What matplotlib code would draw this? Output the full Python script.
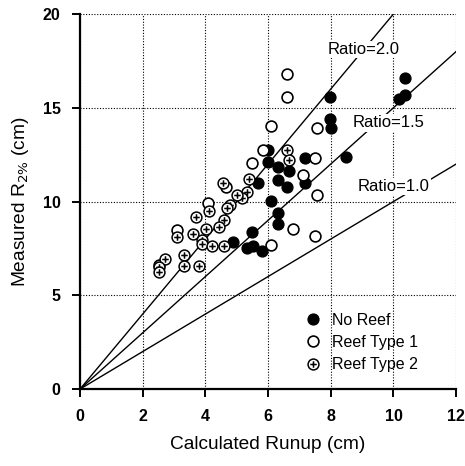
import numpy as np
import matplotlib
matplotlib.use("Agg")
import matplotlib.pyplot as plt
from matplotlib.path import Path

plt.rcParams['font.family'] = ['Liberation Sans', 'DejaVu Sans']

# calculated runup (x) vs measured R2% (y), cm
noreef_x = [10.37, 10.37, 10.19, 7.98, 7.98, 8.0, 8.49, 7.18, 7.18, 5.99, 5.99, 6.33,
            6.68, 6.31, 6.6, 5.69, 6.1, 6.33, 6.31, 5.48, 4.89, 5.32, 5.51, 5.8]
noreef_y = [16.6, 15.7, 15.45, 15.55, 14.4, 13.9, 12.4, 12.3, 11.0, 12.75, 12.12, 11.86,
            11.64, 11.15, 10.8, 10.97, 10.04, 9.4, 8.8, 8.39, 7.82, 7.5, 7.63, 7.36]

type1_x = [6.59, 6.59, 6.1, 7.55, 7.5, 5.85, 5.48, 7.1, 4.65, 7.55, 6.81, 7.5, 6.1,
           4.08, 3.08, 2.53]
type1_y = [16.8, 15.55, 14.05, 13.9, 12.3, 12.75, 12.05, 11.4, 10.75, 10.35, 8.53, 8.16,
           7.7, 9.9, 8.5, 6.6]

type2_x = [6.6, 6.68, 5.4, 5.32, 5.16, 5.0, 4.79, 4.68, 4.6, 4.42, 4.1, 3.69, 4.01,
           3.59, 3.08, 3.9, 3.88, 4.2, 4.6, 3.32, 3.32, 3.81, 2.71, 2.52, 2.52, 4.57]
type2_y = [12.75, 12.24, 11.18, 10.52, 10.17, 10.35, 9.81, 9.63, 9.0, 8.66, 9.47, 9.2,
           8.51, 8.27, 8.09, 7.95, 7.73, 7.64, 7.64, 7.15, 6.58, 6.56, 6.96, 6.52, 6.26, 11.0]

ratios = [2.0, 1.5, 1.0]
ratio_labels = ['Ratio=2.0', 'Ratio=1.5', 'Ratio=1.0']
label_pos = [(7.9, 18.1), (8.7, 14.2), (8.85, 10.8)]

# circle with a plus inside
oplus = Path.make_compound_path(
    Path.unit_circle(),
    Path([[-0.6, 0], [0.6, 0]], [Path.MOVETO, Path.LINETO]),
    Path([[0, -0.6], [0, 0.6]], [Path.MOVETO, Path.LINETO]))

fig = plt.figure(figsize=(4.65, 4.66), dpi=100)
ax = fig.add_axes([0.172, 0.165, 0.809, 0.805])

xx = np.array([0, 12])
for r in ratios:
    ax.plot(xx, r * xx, color='black', lw=1.0, zorder=2)
for (lx, ly), t in zip(label_pos, ratio_labels):
    ax.text(lx, ly, t, fontsize=12, va='center', ha='left', zorder=3,
            bbox=dict(facecolor='white', edgecolor='none', pad=1))

ms = 7.8
ax.plot(noreef_x, noreef_y, 'o', ms=ms, mfc='black', mec='black', mew=1.0,
        label='No Reef', zorder=4)
ax.plot(type1_x, type1_y, 'o', ms=ms, mfc='white', mec='black', mew=1.2,
        label='Reef Type 1', zorder=4)
ax.plot(type2_x, type2_y, ls='none', marker=oplus, ms=ms, mfc='white', mec='black',
        mew=1.1, label='Reef Type 2', zorder=4)

ax.set_xlim(0, 12)
ax.set_ylim(0, 20)
ax.set_xticks(range(0, 13, 2))
ax.set_yticks(range(0, 21, 5))
ax.grid(True, color='black', ls=(0, (1, 1.5)), lw=0.8)
ax.set_axisbelow(True)
for s in ['top', 'right']:
    ax.spines[s].set_visible(False)
for s in ['left', 'bottom']:
    ax.spines[s].set_linewidth(1.6)
ax.tick_params(direction='out', length=6, width=1.4, labelsize=11.5, pad=8)
for lab in ax.get_xticklabels() + ax.get_yticklabels():
    lab.set_fontweight('bold')

ax.set_xlabel('Calculated Runup (cm)', fontsize=13.8, labelpad=9)
ax.set_ylabel('Measured R$_{2\\%}$ (cm)', fontsize=13.8, labelpad=8)

ax.legend(loc='lower left', bbox_to_anchor=(0.577, 0.028), frameon=False, fontsize=11.5,
          handletextpad=0.6, labelspacing=0.45, handlelength=1.2, borderaxespad=0)

fig.savefig('out.png', dpi=100)
